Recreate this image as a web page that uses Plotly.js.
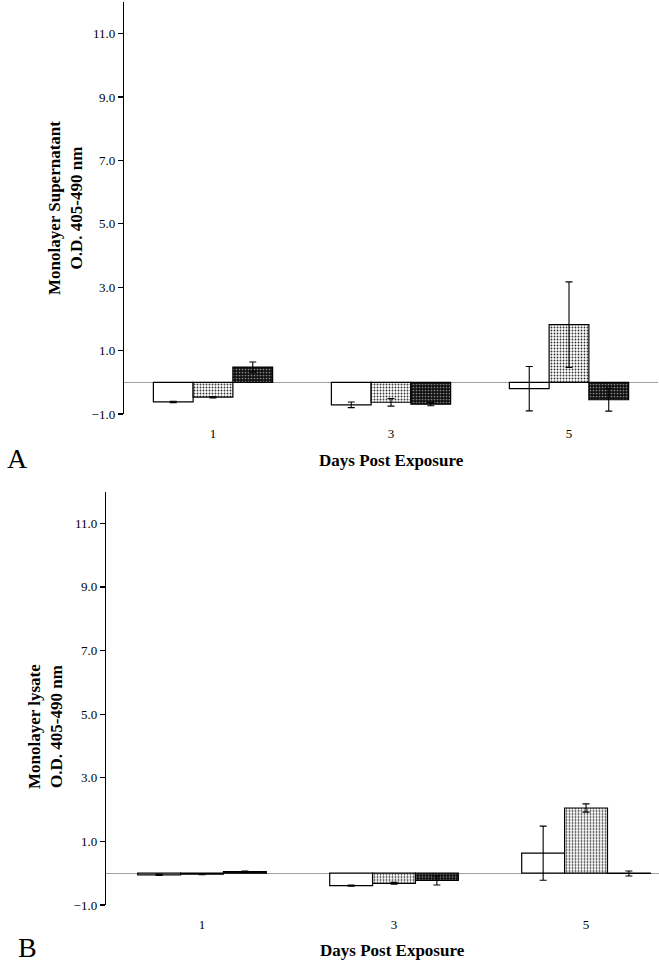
<!DOCTYPE html>
<html><head><meta charset="utf-8">
<script src="https://cdn.plot.ly/plotly-3.0.1.min.js"></script>
<style>html,body{margin:0;padding:0;background:#fff}#chart{width:659px;height:966px}</style>
</head><body><div id="chart"></div>
<script>
const days = ['1', '3', '5'];
const yTicks = [-1, 1, 3, 5, 7, 9, 11];

// Panel A: monolayer supernatant
const supWhite = [-0.62, -0.71, -0.20];
const supWhiteErr = [0.02, 0.09, 0.70];
const supDotted = [-0.47, -0.63, 1.82];
const supDottedErr = [0.02, 0.12, 1.35];
const supDark = [0.48, -0.69, -0.55];
const supDarkErr = [0.16, 0.05, 0.36];

// Panel B: monolayer lysate
const lysWhite = [-0.05, -0.39, 0.63];
const lysWhiteErr = [0.02, 0.02, 0.85];
const lysDotted = [-0.03, -0.32, 2.05];
const lysDottedErr = [0.02, 0.03, 0.13];
const lysDark = [0.05, -0.23, -0.01];
const lysDarkErr = [0.02, 0.14, 0.08];

const FONT = 'Liberation Serif, Times New Roman, serif';

const styles = [
  {color: '#ffffff', pattern: {shape: ''}},
  {color: '#ffffff', pattern: {shape: '.', bgcolor: '#ffffff', fgcolor: '#333333', size: 3, solidity: 0.3}},
  {color: '#111111', pattern: {shape: '.', bgcolor: '#111111', fgcolor: '#8a8a8a', size: 3, solidity: 0.25}}
];

function mk(vals, errs, i, xa, ya) {
  return {
    type: 'bar', x: days, y: vals, xaxis: xa, yaxis: ya,
    marker: {color: styles[i].color, pattern: styles[i].pattern, line: {color: '#000', width: 1.2}},
    error_y: {type: 'data', array: errs, visible: true, color: '#000', thickness: 1.1, width: 3.5},
    hoverinfo: 'skip', showlegend: false
  };
}

const data = [
  mk(supWhite, supWhiteErr, 0, 'x', 'y'),
  mk(supDotted, supDottedErr, 1, 'x', 'y'),
  mk(supDark, supDarkErr, 2, 'x', 'y'),
  mk(lysWhite, lysWhiteErr, 0, 'x2', 'y2'),
  mk(lysDotted, lysDottedErr, 1, 'x2', 'y2'),
  mk(lysDark, lysDarkErr, 2, 'x2', 'y2')
];

const W = 659, H = 966;
function yax(top, bottom) {
  return {
    domain: [(H - bottom) / H, (H - top) / H], range: [-1, 12],
    showline: true, linecolor: '#000', linewidth: 1.2, ticks: 'outside', ticklen: 5, tickcolor: '#000', tickwidth: 1.2,
    tickvals: yTicks, tickformat: '.1f', tickfont: {family: FONT, size: 13, color: '#000'},
    showgrid: false, zeroline: true, zerolinecolor: '#a0a0a0', zerolinewidth: 1, fixedrange: true
  };
}
function xax(l, r, range) {
  return {
    domain: [l / W, r / W], type: 'category', range: range, showline: false, ticks: '', showgrid: false, zeroline: false,
    tickfont: {family: FONT, size: 13, color: '#000'}, ticklabelstandoff: 10, fixedrange: true
  };
}

const layout = {
  width: W, height: H, margin: {l: 0, r: 0, t: 0, b: 0},
  paper_bgcolor: '#fff', plot_bgcolor: 'rgba(0,0,0,0)',
  barmode: 'group', bargap: 0.33, bargroupgap: 0,
  xaxis: Object.assign(xax(124, 658, [-0.5, 2.5]), {anchor: 'y'}),
  yaxis: Object.assign(yax(2, 414), {anchor: 'x'}),
  xaxis2: Object.assign(xax(106, 659, [-0.5, 2.38]), {anchor: 'y2'}),
  yaxis2: Object.assign(yax(491.5, 905), {anchor: 'x2'}),
  font: {family: FONT, color: '#000'},
  annotations: [
    {text: '<b>Days Post Exposure</b>', xref: 'paper', yref: 'paper', x: 391 / W, y: (H - 460) / H, showarrow: false, font: {size: 17, family: FONT}, xanchor: 'center', yanchor: 'middle'},
    {text: '<b>Days Post Exposure</b>', xref: 'paper', yref: 'paper', x: 392 / W, y: (H - 950) / H, showarrow: false, font: {size: 17, family: FONT}, xanchor: 'center', yanchor: 'middle'},
    {text: '<b>Monolayer Supernatant<br>O.D. 405-490 nm</b>', xref: 'paper', yref: 'paper', x: 65 / W, y: (H - 208) / H, showarrow: false, textangle: -90, font: {size: 17, family: FONT}, xanchor: 'center', yanchor: 'middle'},
    {text: '<b>Monolayer lysate<br>O.D. 405-490 nm</b>', xref: 'paper', yref: 'paper', x: 45 / W, y: (H - 726) / H, showarrow: false, textangle: -90, font: {size: 17, family: FONT}, xanchor: 'center', yanchor: 'middle'},
    {text: 'A', xref: 'paper', yref: 'paper', x: 17 / W, y: (H - 458) / H, showarrow: false, font: {size: 28, family: FONT}, xanchor: 'center', yanchor: 'middle'},
    {text: 'B', xref: 'paper', yref: 'paper', x: 27 / W, y: (H - 947) / H, showarrow: false, font: {size: 28, family: FONT}, xanchor: 'center', yanchor: 'middle'}
  ]
};

Plotly.newPlot('chart', data, layout, {displayModeBar: false, staticPlot: true});
</script>
</body></html>
